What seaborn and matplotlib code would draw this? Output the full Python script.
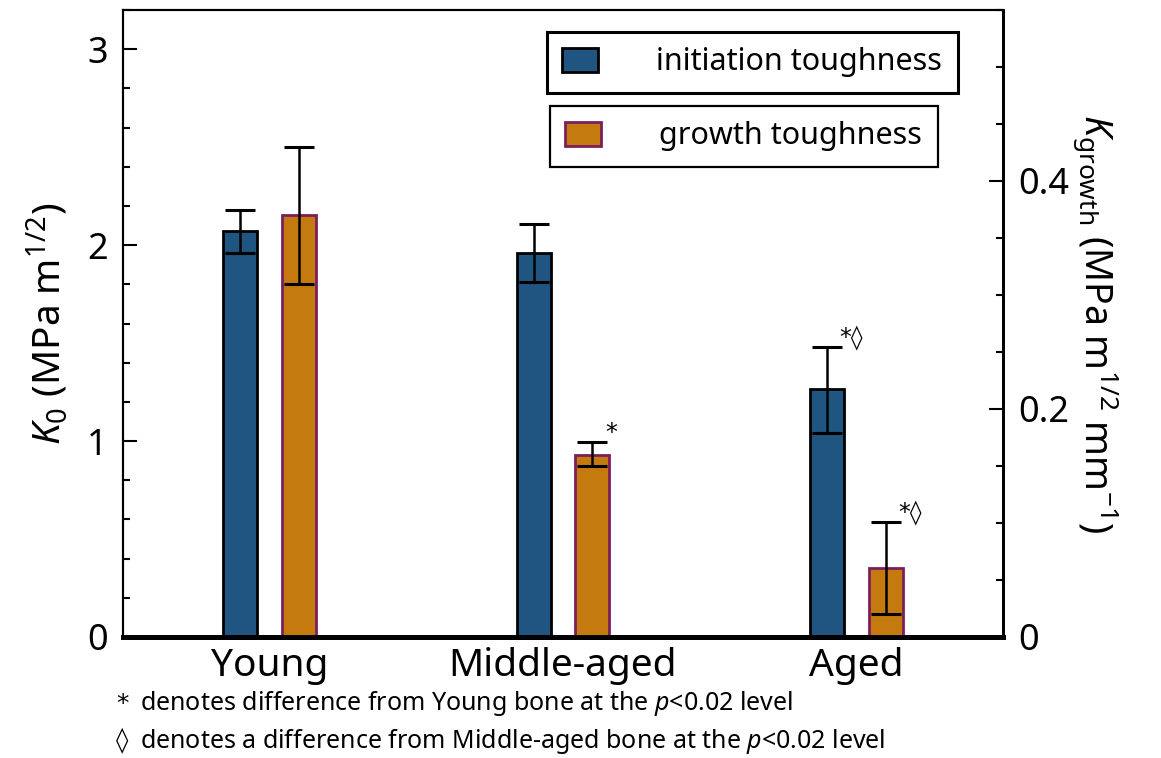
import numpy as np
import pandas as pd
import matplotlib
matplotlib.use("Agg")
import matplotlib.pyplot as plt
from matplotlib.patches import Patch
from matplotlib.ticker import MultipleLocator
import seaborn as sns

# ---------------- data ----------------
groups = ["Young", "Middle-aged", "Aged"]
measures = ["initiation toughness", "growth toughness"]

init_mean = [2.07, 1.96, 1.265]
init_lo = [1.96, 1.81, 1.04]
init_hi = [2.18, 2.11, 1.48]

growth_mean = [0.370, 0.160, 0.0605]
growth_lo = [0.310, 0.150, 0.020]
growth_hi = [0.430, 0.171, 0.101]

init_marks = ["", "", "*\u25ca"]
growth_marks = ["", "*", "*\u25ca"]

foot_symbols = ["*", "\u25ca"]
footnotes = [
    "denotes difference from Young bone at the $p$<0.02 level",
    "denotes a difference from Middle-aged bone at the $p$<0.02 level",
]

# ---------------- style ----------------
sns.set_style("ticks")
FONT = ["Noto Sans", "DejaVu Sans"]
plt.rcParams["font.family"] = FONT
plt.rcParams["mathtext.fontset"] = "custom"
plt.rcParams["mathtext.rm"] = "Noto Sans"
plt.rcParams["mathtext.it"] = "Noto Sans:italic"
plt.rcParams["mathtext.bf"] = "Noto Sans:bold"
for k in ["text.color", "axes.labelcolor", "xtick.color", "ytick.color", "axes.edgecolor"]:
    plt.rcParams[k] = "black"

BLUE = "#1F5580"
ORANGE = "#C47A0E"
PURPLE = "#7B1F5C"

fig = plt.figure(figsize=(11.61, 7.58), dpi=100)
ax = fig.add_axes([123 / 1161, 1 - 637 / 758, (1003 - 123) / 1161, (637 - 10) / 758])
ax2 = ax.twinx()

palette = {measures[0]: BLUE, measures[1]: ORANGE}
df_init = pd.DataFrame({"group": groups, "value": init_mean, "measure": measures[0]})
df_grow = pd.DataFrame({"group": groups, "value": growth_mean, "measure": measures[1]})

WIDTH = 0.4
GAP = 0.42
off = WIDTH / 4

sns.barplot(data=df_init, x="group", y="value", hue="measure", hue_order=measures,
            order=groups, palette=palette, saturation=1, width=WIDTH, gap=GAP, dodge=True,
            edgecolor="black", linewidth=2, legend=False, ax=ax, errorbar=None)
sns.barplot(data=df_grow, x="group", y="value", hue="measure", hue_order=measures,
            order=groups, palette=palette, saturation=1, width=WIDTH, gap=GAP, dodge=True,
            edgecolor=PURPLE, linewidth=2, legend=False, ax=ax2, errorbar=None)

xpos = np.arange(len(groups))
im = np.array(init_mean)
gm = np.array(growth_mean)
ax.errorbar(xpos - off, im, yerr=[im - np.array(init_lo), np.array(init_hi) - im],
            fmt="none", ecolor="black", elinewidth=1.8, capsize=11, capthick=2.2, zorder=5)
ax2.errorbar(xpos + off, gm, yerr=[gm - np.array(growth_lo), np.array(growth_hi) - gm],
             fmt="none", ecolor="black", elinewidth=1.8, capsize=11, capthick=2.2, zorder=5)

for i, m in enumerate(init_marks):
    if m:
        ax.annotate(m, xy=(xpos[i] - off, init_hi[i]), xytext=(9, -2),
                    textcoords="offset points", ha="left", va="bottom",
                    fontsize=17, family=["DejaVu Sans"])
for i, m in enumerate(growth_marks):
    if m:
        ax2.annotate(m, xy=(xpos[i] + off, growth_hi[i]), xytext=(9, -2),
                     textcoords="offset points", ha="left", va="bottom",
                     fontsize=17, family=["DejaVu Sans"])

# axes limits / ticks
ax.set_xlim(-0.5, len(groups) - 0.5)
ax.set_ylim(0, 3.2)
ax2.set_ylim(0, 0.55)
ax.yaxis.set_major_locator(MultipleLocator(1))
ax.yaxis.set_minor_locator(MultipleLocator(0.2))
ax2.yaxis.set_major_locator(MultipleLocator(0.2))
ax2.yaxis.set_minor_locator(MultipleLocator(0.05))
ax.yaxis.set_major_formatter(plt.FuncFormatter(lambda v, p: f"{v:g}"))
ax2.yaxis.set_major_formatter(plt.FuncFormatter(lambda v, p: f"{v:g}"))

ax.tick_params(axis="y", which="major", direction="in", length=10, width=1.5,
               labelsize=26, pad=11)
ax.tick_params(axis="y", which="minor", direction="in", length=5, width=1.5)
ax2.tick_params(axis="y", which="major", direction="in", length=10, width=1.5,
                labelsize=26, pad=11)
ax2.tick_params(axis="y", which="minor", direction="in", length=5, width=1.5)
ax.tick_params(axis="x", length=0, labelsize=28, pad=7)
ax2.tick_params(axis="x", length=0)

for a in (ax, ax2):
    a.spines["left"].set_linewidth(1.5)
    a.spines["top"].set_linewidth(1.5)
    a.spines["right"].set_linewidth(2)
    a.spines["bottom"].set_linewidth(3.5)
    for s in a.spines.values():
        s.set_visible(True)
        s.set_color("black")

ax.set_xlabel("")
ax2.set_xlabel("")
ax.set_ylabel("$K_0$ (MPa m$^{1/2}$)", fontsize=28, labelpad=12)
ax2.set_ylabel("$K_{\\mathrm{growth}}$ (MPa m$^{1/2}$ mm$^{-1}$)", fontsize=27,
               rotation=270, labelpad=36)

# legends (two separate boxes)
leg_kw = dict(fontsize=22, frameon=True, fancybox=False, framealpha=1, handlelength=1.18,
              handleheight=0.85, handletextpad=1.9, borderpad=0.5, borderaxespad=0)
leg1 = ax2.legend(handles=[Patch(facecolor=BLUE, edgecolor="black", linewidth=2)],
                  labels=[measures[0]], loc="upper left",
                  bbox_to_anchor=(547 / 1161, 1 - 32 / 758),
                  bbox_transform=fig.transFigure, **leg_kw)
leg1.get_frame().set_edgecolor("black")
leg1.get_frame().set_linewidth(2.2)
ax2.add_artist(leg1)
leg2 = ax2.legend(handles=[Patch(facecolor=ORANGE, edgecolor=PURPLE, linewidth=2)],
                  labels=[measures[1]], loc="upper left",
                  bbox_to_anchor=(550 / 1161, 1 - 106 / 758),
                  bbox_transform=fig.transFigure, **leg_kw)
leg2.get_frame().set_edgecolor("black")
leg2.get_frame().set_linewidth(1.6)

foot_y = [704, 741]
for sym, txt, yy in zip(foot_symbols, footnotes, foot_y):
    fig.text(116 / 1161, 1 - yy / 758, sym, fontsize=18, va="center", ha="left",
             family=["DejaVu Sans"])
    fig.text(140 / 1161, 1 - yy / 758, txt, fontsize=18, va="center", ha="left")

fig.savefig("out.png", dpi=100)
